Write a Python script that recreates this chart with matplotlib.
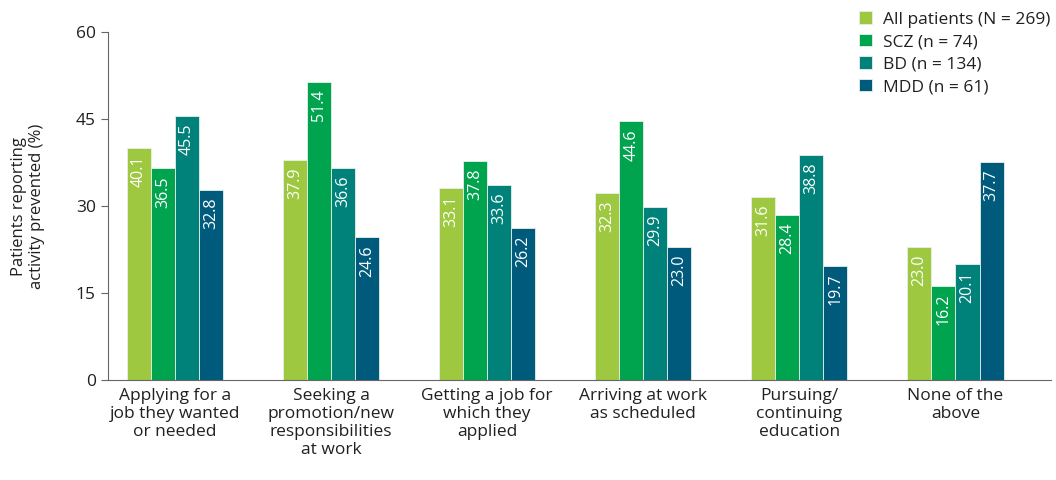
import numpy as np
import matplotlib
matplotlib.use("Agg")
from matplotlib import pyplot as plt

plt.rcParams['font.family'] = ['Open Sans', 'DejaVu Sans']

# data
categories = ["Applying for a\njob they wanted\nor needed",
              "Seeking a\npromotion/new\nresponsibilities\nat work",
              "Getting a job for\nwhich they\napplied",
              "Arriving at work\nas scheduled",
              "Pursuing/\ncontinuing\neducation",
              "None of the\nabove"]
series_names = ["All patients (N = 269)", "SCZ (n = 74)", "BD (n = 134)", "MDD (n = 61)"]
all_patients = [40.1, 37.9, 33.1, 32.3, 31.6, 23.0]
scz = [36.5, 51.4, 37.8, 44.6, 28.4, 16.2]
bd = [45.5, 36.6, 33.6, 29.9, 38.8, 20.1]
mdd = [32.8, 24.6, 26.2, 23.0, 19.7, 37.7]
colors = ["#9dc83f", "#00a34e", "#00827a", "#005a7c"]

fig = plt.figure(figsize=(10.56, 4.8), dpi=100)
ax = fig.add_axes([0.102, 0.208, 0.893, 0.725])

x = np.arange(len(categories))
w = 0.154
for i, (vals, name, c) in enumerate(zip([all_patients, scz, bd, mdd], series_names, colors)):
    pos = x + (i - 1.5) * w
    ax.bar(pos, vals, w, color=c, edgecolor="#e8f0e8", linewidth=0.6, label=name)
    for p, v in zip(pos, vals):
        ax.text(p, v - 1.3, "%.1f" % v, rotation=90, ha="center", va="top",
                color="white", fontsize=11.5)

ax.set_ylim(0, 60)
ax.set_yticks([0, 15, 30, 45, 60])
ax.set_xlim(-0.43, 5.61)
ax.set_xticks(x)
ax.set_xticklabels(categories, fontsize=12.5, color="#231f20", va="top", linespacing=1.15)
ax.tick_params(axis="x", length=0, pad=6)
ax.tick_params(axis="y", labelsize=12.5, colors="#231f20", length=5, color="#666666")
ax.spines["top"].set_visible(False)
ax.spines["right"].set_visible(False)
ax.spines["left"].set_color("#666666")
ax.spines["bottom"].set_color("#666666")
ax.set_ylabel("Patients reporting\nactivity prevented (%)", fontsize=12, color="#231f20", labelpad=22)

leg = ax.legend(loc="upper right", bbox_to_anchor=(1.016, 1.105), frameon=False, fontsize=12.5,
                handlelength=0.75, handleheight=0.75, labelspacing=0.35, handletextpad=0.6)
for t in leg.get_texts():
    t.set_color("#231f20")

fig.savefig("out.png", dpi=100)
